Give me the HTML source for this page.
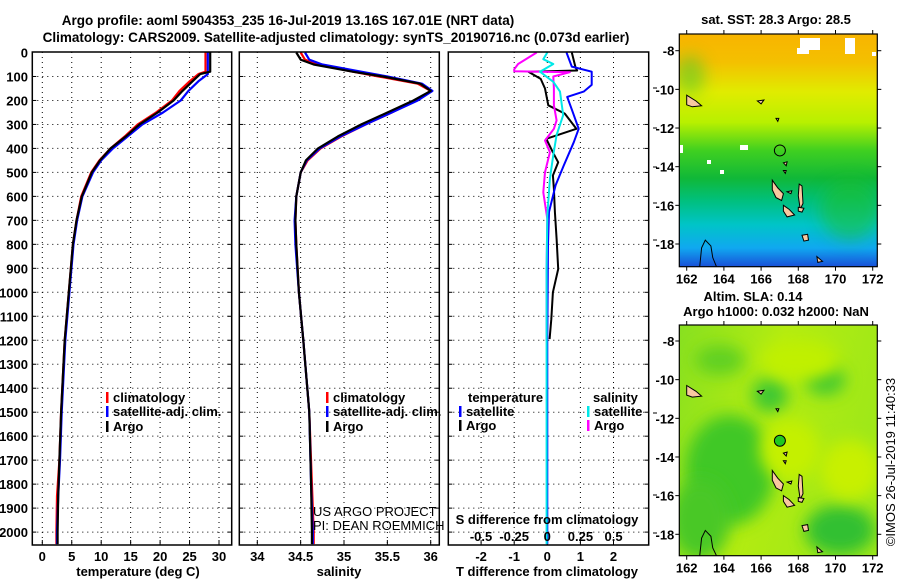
<!DOCTYPE html>
<html><head><meta charset="utf-8"><style>
html,body{margin:0;padding:0;background:#fff;}
svg{display:block;font-family:"Liberation Sans",sans-serif;}
.t{font-weight:bold;font-size:13px;}
.ti{font-weight:bold;font-size:13.5px;}
</style></head><body>
<svg id="fig" width="900" height="580" viewBox="0 0 900 580">
<text class="ti" x="288" y="25" text-anchor="middle">Argo profile: aoml 5904353_235 16-Jul-2019 13.16S 167.01E (NRT data)</text>
<text class="ti" x="336" y="42" text-anchor="middle">Climatology: CARS2009. Satellite-adjusted climatology: synTS_20190716.nc (0.073d earlier)</text>
<g id="plots"></g>
<g id="maps"></g>
<text x="895" y="462" font-size="13" text-anchor="middle" transform="rotate(-90 895 462)">©IMOS 26-Jul-2019 11:40:33</text>
</svg>
<script>
// ---------- DATA ----------
const depthTicks=[0,100,200,300,400,500,600,700,800,900,1000,1100,1200,1300,1400,1500,1600,1700,1800,1900,2000];
const tempTicks=[0,5,10,15,20,25,30];
const salTicks=[34,34.5,35,35.5,36];
const salTickLabels=["34","34.5","35","35.5","36"];
const tdTicks=[-2,-1,0,1,2];
const sdTicks=[-0.5,-0.25,0,0.25,0.5];
const sdTickLabels=["-0.5","-0.25","0","0.25","0.5"];

const tDepth=[0,80,90,120,160,200,250,300,350,400,450,500,600,700,800,1000,1200,1500,1700,1850,2000,2050];
const tClim=[27.7,27.7,26.5,25,23.3,22,19.3,16.2,14,11.6,9.7,8.3,6.6,5.8,5.2,4.5,3.8,3.2,2.9,2.5,2.4,2.4];
const tSat=[28.1,28.1,28.1,26.5,24.8,23.5,20.5,17,14.5,12,10,8.6,6.8,5.9,5.3,4.6,3.9,3.3,3.0,2.7,2.5,2.5];
const tArgo=[28.5,28.5,26.8,25.5,23.8,22.3,19.6,16.5,14.2,11.6,9.8,8.4,6.7,5.8,5.2,4.5,3.8,3.2,2.9,2.7,2.6,2.6];

const sDepth=[0,30,50,80,100,130,160,200,250,300,350,400,450,500,600,700,800,1000,1200,1500,1800,2000,2050];
const sClim=[34.5,34.55,34.7,35.1,35.4,35.85,36.0,35.82,35.55,35.25,34.97,34.73,34.58,34.5,34.45,34.44,34.45,34.48,34.53,34.6,34.63,34.65,34.65];
const sSat=[34.55,34.6,34.75,35.2,35.5,35.9,36.02,35.85,35.55,35.25,34.96,34.72,34.57,34.5,34.45,34.43,34.44,34.48,34.53,34.6,34.62,34.64,34.64];
const sArgo=[34.45,34.5,34.65,35.1,35.45,35.88,36.0,35.8,35.5,35.2,34.93,34.7,34.56,34.5,34.45,34.44,34.45,34.48,34.53,34.6,34.62,34.63,34.63];

const dtSatDepth=[0,59,80,135,163,185,241,318,374,471,554,665,800,1200,1600,2050];
const dtSat=[0.58,0.74,1.34,1.34,1.1,0.6,0.75,0.95,0.8,0.5,0.25,0.05,0.02,0.0,0.0,0.0];
const dtArgoDepth=[0,60,75,80,110,150,220,255,318,360,416,458,513,569,665,777,903,1000,1112,1195];
const dtArgo=[0.74,0.85,0.9,-0.57,-0.2,-0.07,0.03,0.53,0.88,-0.03,0.17,0.33,0.17,0.2,0.23,0.28,0.33,0.17,0.12,0.07];
const dsArgoDepth=[0,48,70,78,82,100,150,220,283,318,367,416,499,583,694,900,1200];
const dsArgo=[-0.08,-0.22,-0.25,-0.25,0.17,0.045,0.05,0.05,0.07,0.05,-0.017,0.02,-0.017,-0.03,0,-0.005,-0.005];
const dsSatDepth=[0,28,48,80,122,163,261,344,427,527,680,900,1300,1700,2050];
const dsSat=[0,-0.03,0.045,-0.055,0.045,0.096,0.12,0.07,0.045,0.02,0,-0.005,-0.005,-0.005,-0.005];

// ---------- HELPERS ----------
const NS="http://www.w3.org/2000/svg";
const plots=document.getElementById('plots');
function el(tag,attrs,parent){const e=document.createElementNS(NS,tag);for(const k in attrs)e.setAttribute(k,attrs[k]);(parent||plots).appendChild(e);return e;}
const yD=d=>52.5+d*0.2398;
const PT=52,PB=545;
const xT=v=>42.3+v*5.89;
const xS=v=>257.3+(v-34)*86.7;
const xTD=v=>547.3+v*33.1;
const xSD=v=>547.3+v*132.5;

function frame(x0,x1,name){
  const r=el('rect',{x:x0,y:PT,width:x1-x0,height:PB-PT,fill:'none',stroke:'#000','stroke-width':1.5});
  
  
}
function hgrid(x0,x1){
  depthTicks.forEach(d=>{if(d===0)return;
    const l=el('line',{x1:x0,x2:x1,y1:yD(d),y2:yD(d),stroke:'#000','stroke-width':1,'stroke-dasharray':'1,4'});
    
    
    el('line',{x1:x0,x2:x0+4,y1:yD(d),y2:yD(d),stroke:'#000'});
    el('line',{x1:x1-4,x2:x1,y1:yD(d),y2:yD(d),stroke:'#000'});
  });
}
function vgrid(ticks,fx,labels,name){
  ticks.forEach((v,i)=>{
    const x=fx(v);
    const l=el('line',{x1:x,x2:x,y1:PT,y2:PB,stroke:'#000','stroke-width':1,'stroke-dasharray':'1,4'});
    
    
    el('line',{x1:x,x2:x,y1:PB-5,y2:PB,stroke:'#000'});
    const t=el('text',{x:x,y:561,'text-anchor':'middle','class':'t'});
    t.textContent=labels?labels[i]:String(v);
    
    
  });
}
function line(xs,ds,fx,color,name,w){
  const pts=xs.map((v,i)=>fx(v).toFixed(1)+','+yD(ds[i]).toFixed(1)).join(' ');
  const p=el('polyline',{points:pts,fill:'none',stroke:color,'stroke-width':w||2.2,'stroke-linejoin':'round'});
  
  
}
function legend(x,y,color,label,name){
  el('rect',{x:x,y:y-10,width:2.5,height:11,fill:color});
  const t=el('text',{x:x+7,y:y,'class':'t'});
  t.textContent=label;
  
  
}

depthTicks.forEach(d=>{
  const t=el('text',{x:28,y:yD(d)+5,'text-anchor':'end','class':'t'});
  t.textContent=String(d);
  
  
});

// Panel 1 temperature
hgrid(32.3,231.7);
vgrid(tempTicks,xT,null,'temperature');
line(tClim,tDepth,xT,'#ff0000','temperature-climatology-line');
line(tSat,tDepth,xT,'#0000ff','temperature-satellite-line');
line(tArgo,tDepth,xT,'#000000','temperature-argo-line');
frame(32.3,231.7,'temperature-panel');
legend(106,402,'#ff0000','climatology','temp-legend-climatology');
legend(106,416,'#0000ff','satellite-adj. clim.','temp-legend-satellite');
legend(106,431,'#000000','Argo','temp-legend-argo');
{const t=el('text',{x:138,y:576,'text-anchor':'middle','class':'t'});t.textContent='temperature (deg C)';

}

// Panel 2 salinity
hgrid(239.3,439.3);
vgrid(salTicks,xS,salTickLabels,'salinity');
line(sClim,sDepth,xS,'#ff0000','salinity-climatology-line');
line(sSat,sDepth,xS,'#0000ff','salinity-satellite-line');
line(sArgo,sDepth,xS,'#000000','salinity-argo-line');
frame(239.3,439.3,'salinity-panel');
legend(326,402,'#ff0000','climatology','sal-legend-climatology');
legend(326,416,'#0000ff','satellite-adj. clim.','sal-legend-satellite');
legend(326,431,'#000000','Argo','sal-legend-argo');
{const t=el('text',{x:339,y:576,'text-anchor':'middle','class':'t'});t.textContent='salinity';

}
{const t=el('text',{x:313,y:516,'font-size':'13'});t.textContent='US ARGO PROJECT';


const t2=el('text',{x:313,y:530,'font-size':'13'});t2.textContent='PI: DEAN ROEMMICH';

}

// Panel 3 differences
hgrid(448.3,648.7);
vgrid(tdTicks,xTD,null,'t-difference');
line(dtArgo,dtArgoDepth,xTD,'#000000','t-diff-argo-line',2);
line(dtSat,dtSatDepth,xTD,'#0000ff','t-diff-satellite-line',2);
line(dsArgo,dsArgoDepth,xSD,'#ff00ff','s-diff-argo-line',2);
line(dsSat,dsSatDepth,xSD,'#00e8e8','s-diff-satellite-line',2);
frame(448.3,648.7,'difference-panel');
sdTicks.forEach((v,i)=>{
  const t=el('text',{x:xSD(v),y:541,'text-anchor':'middle','class':'t'});
  t.textContent=sdTickLabels[i];
  
  
});
[88,128,167,203,240,413,495,533].forEach(y=>el('line',{x1:653,x2:657,y1:y,y2:y,stroke:'#000'}));
{const t=el('text',{x:468,y:402,'class':'t'});t.textContent='temperature';


const s=el('text',{x:593,y:402,'class':'t'});s.textContent='salinity';

}
legend(459,416,'#0000ff','satellite','t-diff-legend-satellite');
legend(459,430,'#000000','Argo','t-diff-legend-argo');
legend(587,416,'#00e8e8','satellite','s-diff-legend-satellite');
legend(587,430,'#ff00ff','Argo','s-diff-legend-argo');
{const t=el('text',{x:547,y:524,'text-anchor':'middle','class':'t'});t.textContent='S difference from climatology';


const t2=el('text',{x:547,y:576,'text-anchor':'middle','class':'t'});t2.textContent='T difference from climatology';

}

// ---------- MAPS ----------
const maps=document.getElementById('maps');
function m(tag,attrs){return el(tag,attrs,maps);}
const lonTicks=[162,164,166,168,170,172];
const latTicks=[-8,-10,-12,-14,-16,-18];
const islands=[
 [[166.6,-14.7],[166.9,-15.1],[167.2,-15.4],[167.1,-15.75],[166.8,-15.6],[166.6,-15.2]],
 [[167.2,-16.0],[167.5,-16.2],[167.8,-16.5],[167.4,-16.6],[167.2,-16.3]],
 [[168.05,-14.9],[168.2,-15.0],[168.25,-15.9],[168.1,-16.2],[168.0,-15.5]],
 [[168.0,-16.1],[168.3,-16.15],[168.2,-16.35],[168.0,-16.3]],
 [[168.2,-17.55],[168.5,-17.5],[168.55,-17.8],[168.3,-17.85]],
 [[162,-10.3],[162.5,-10.6],[162.8,-10.85],[162.3,-10.9],[162,-10.8]],
 [[169.0,-18.65],[169.3,-18.9],[169.05,-18.95]],
 [[167.4,-15.3],[167.65,-15.25],[167.6,-15.4]],
 [[167.2,-13.8],[167.4,-13.75],[167.35,-13.95]],
 [[167.2,-14.2],[167.35,-14.2],[167.3,-14.35]],
 [[165.8,-10.6],[166.15,-10.55],[166.0,-10.75]],
 [[166.8,-11.5],[166.95,-11.5],[166.9,-11.65]]
];
function drawMap(y0,y1,latY,fillId,name){
  const x0=679.3,x1=877.3;
  const lx=lon=>686.7+(lon-162)*18.6;
  const ly=lat=>latY+(-8-lat)*19.33;
  const r=m('rect',{x:x0,y:y0,width:x1-x0,height:y1-y0,fill:'url(#'+fillId+')'});
  
  
  return {x0,x1,lx,ly};
}
maps.innerHTML=`<defs>
<linearGradient id="sstg" x1="0" y1="0" x2="0" y2="1">
<stop offset="0" stop-color="#f8b400"/><stop offset="0.12" stop-color="#f4c000"/>
<stop offset="0.25" stop-color="#e0ec00"/><stop offset="0.38" stop-color="#b8f000"/>
<stop offset="0.5" stop-color="#40d020"/><stop offset="0.62" stop-color="#10b838"/>
<stop offset="0.72" stop-color="#00c080"/><stop offset="0.82" stop-color="#00c4c8"/>
<stop offset="0.92" stop-color="#10a8f0"/><stop offset="1" stop-color="#1850d8"/></linearGradient>
<linearGradient id="slag" x1="0" y1="0" x2="1" y2="0.3">
<stop offset="0" stop-color="#88e020"/><stop offset="0.5" stop-color="#b4ec10"/><stop offset="1" stop-color="#a0e818"/></linearGradient>
<filter id="bl" x="-100%" y="-100%" width="300%" height="300%"><feGaussianBlur stdDeviation="8"/></filter>
<clipPath id="c1"><rect x="679.3" y="34" width="198" height="232.7"/></clipPath>
<clipPath id="c2"><rect x="679.3" y="325" width="198" height="230.7"/></clipPath>
</defs>`;
const M1=drawMap(34,266.7,50.7,'sstg','sst-map');
const g1=m('g',{'clip-path':'url(#c1)'});
[[800,38,20,12],[797,48,12,6],[845,38,10,16],[872,52,4,4],[740,145,8,5],[680,145,3,8],[707,160,4,4],[720,170,4,4]].forEach(b=>el('rect',{x:b[0],y:b[1],width:b[2],height:b[3],fill:'#fff'},g1));
el('ellipse',{cx:850,cy:210,rx:30,ry:30,fill:'#20c020',opacity:0.5,filter:'url(#bl)'},g1);
el('ellipse',{cx:690,cy:75,rx:15,ry:20,fill:'#40c830',opacity:0.5,filter:'url(#bl)'},g1);
const M2=drawMap(325,555.7,341,'slag','sla-map');
const g2=m('g',{'clip-path':'url(#c2)'});
[[730,470,45,55,'#40c828'],[700,520,30,40,'#48c828'],[840,530,35,25,'#30c030'],[825,380,20,15,'#40c830'],[770,395,18,18,'#40c830'],[720,360,25,15,'#60d020'],[850,470,30,30,'#c8f000'],[800,360,40,20,'#c0f000'],[790,450,30,30,'#c4f000']].forEach(e=>el('ellipse',{cx:e[0],cy:e[1],rx:e[2],ry:e[3],fill:e[4],filter:'url(#bl)'},g2));
[[M1,34,266.7,'sst'],[M2,325,555.7,'sla']].forEach(([M,y0,y1,nm],k)=>{
  const g=k?g2:g1;
  islands.forEach(poly=>{
    const p=el('polygon',{points:poly.map(q=>M.lx(q[0]).toFixed(1)+','+M.ly(q[1]).toFixed(1)).join(' '),fill:'#f8c8a0',stroke:'#000','stroke-width':1},g);
    
    
  });
  el('path',{d:`M${M.lx(162.7)} ${y1} L${M.lx(162.8)} ${M.ly(-18.2)} L${M.lx(163)} ${M.ly(-17.8)} L${M.lx(163.3)} ${M.ly(-18.1)} L${M.lx(163.4)} ${M.ly(-18.7)} L${M.lx(163.6)} ${y1}`,fill:'none',stroke:'#000','stroke-width':1},g);
  const c=el('circle',{cx:M.lx(167.01),cy:M.ly(-13.16),r:5.5,fill:k?'#20c820':'none',stroke:'#000','stroke-width':1},g);
  
  
  m('rect',{x:M.x0,y:y0,width:M.x1-M.x0,height:y1-y0,fill:'none',stroke:'#000','stroke-width':1.2});
  lonTicks.forEach(lon=>{
    m('line',{x1:M.lx(lon),x2:M.lx(lon),y1:y1,y2:y1+4,stroke:'#000'});
    m('line',{x1:M.lx(lon),x2:M.lx(lon),y1:y0,y2:y0-4,stroke:'#000'});
    const t=m('text',{x:M.lx(lon),y:y1+17,'text-anchor':'middle','class':'t','font-size':'14'});
    t.textContent=String(lon);
    
    
  });
  latTicks.forEach(lat=>{
    m('line',{x1:M.x0-4,x2:M.x0,y1:M.ly(lat),y2:M.ly(lat),stroke:'#000'});
    m('line',{x1:M.x1,x2:M.x1+4,y1:M.ly(lat),y2:M.ly(lat),stroke:'#000'});
    const t=m('text',{x:M.x0-5,y:M.ly(lat)+5,'text-anchor':'end','class':'t','font-size':'14'});
    t.textContent=String(lat);
    
    
  });
});
function mt(x,y,s,name){const t=m('text',{x:x,y:y,'text-anchor':'middle','class':'t'});t.textContent=s;

}
mt(776,24,'sat. SST: 28.3 Argo: 28.5','sst-map-title');
mt(753,301,'Altim. SLA: 0.14','sla-map-title');
mt(776,316,'Argo h1000: 0.032 h2000: NaN','sla-map-subtitle');
</script>
</body></html>
